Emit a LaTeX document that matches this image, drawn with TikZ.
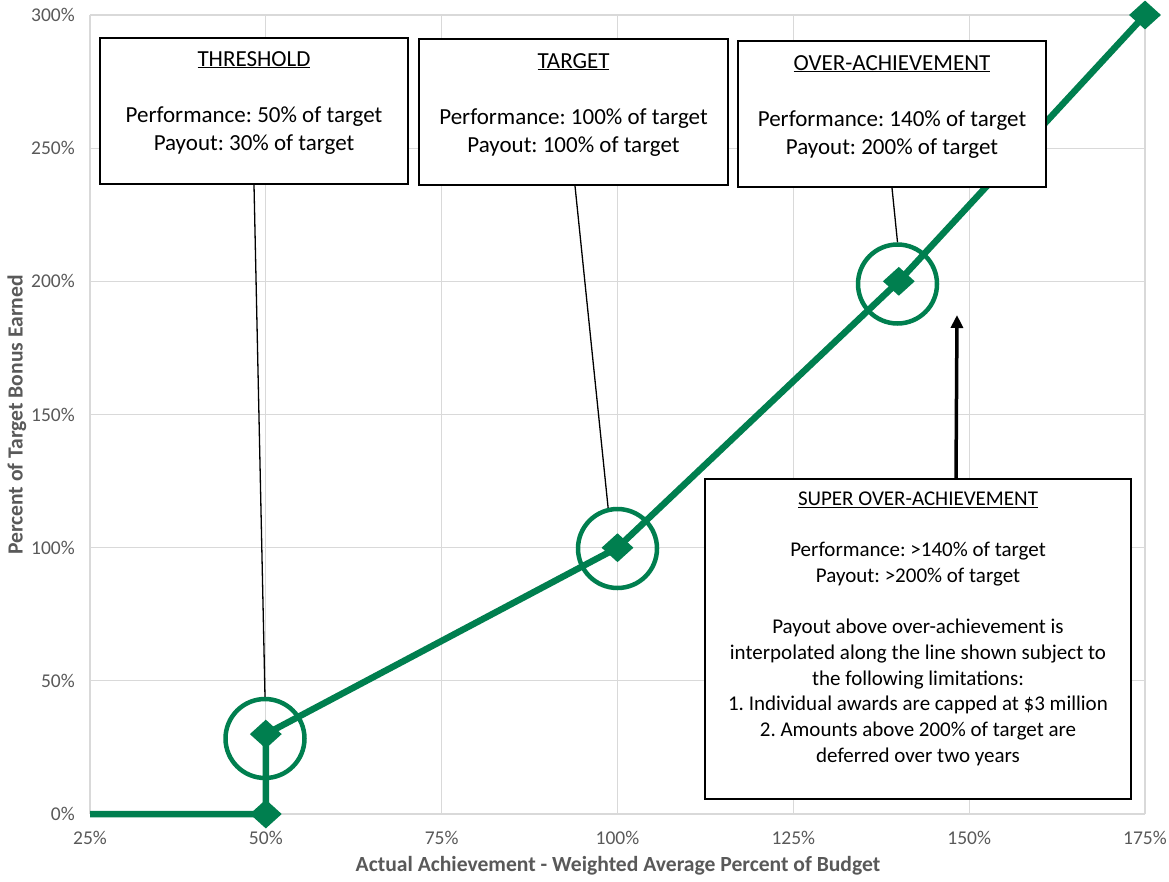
\documentclass[tikz,border=0pt]{standalone}
\usepackage{fontspec}
\setmainfont{Carlito}
\frenchspacing
\usetikzlibrary{shapes.geometric,arrows.meta,calc}
\definecolor{grn}{RGB}{0,127,79}
\definecolor{gridc}{RGB}{217,217,217}
\definecolor{axc}{RGB}{89,89,89}
\begin{document}
\begin{tikzpicture}[x=1pt,y=-1pt,
  gridline/.style={draw=gridc,line width=1.3pt},
  ticky/.style={font=\fontsize{19.5}{22}\selectfont,text=axc,anchor=east,inner sep=0},
  tickx/.style={font=\fontsize{19.5}{22}\selectfont,text=axc,anchor=center,inner sep=0},
  axtitle/.style={font=\fontsize{21.6}{24}\selectfont\bfseries,text=axc,inner sep=0},
  infobox/.style={rectangle,draw=black,line width=1.8pt,fill=white,inner sep=0},
  boxtext/.style={align=center,anchor=north,inner sep=0,font=\fontsize{23}{28}\selectfont},
  stext/.style={align=center,anchor=north,inner sep=0,font=\fontsize{21}{25.7}\selectfont},
  ring/.style={circle,draw=grn,line width=4.5pt,minimum size=79pt,inner sep=0},
  dmd/.style={diamond,fill=grn,minimum width=32pt,minimum height=29pt,inner sep=0},
  curve/.style={draw=grn,line width=6.5pt,line join=round},
  leader/.style={draw=black,line width=1.3pt},
]
\useasboundingbox (0,0) rectangle (1169,881);
\fill[white] (0,0) rectangle (1169,881);

% grid
\foreach \i in {0,...,6} {
  \draw[gridline] ({90+\i*175.833},15) -- ({90+\i*175.833},814);
  \draw[gridline] (90,{15+\i*133.167}) -- (1145,{15+\i*133.167});
}
% tick labels
\foreach \v [count=\j from 0] in {300,250,200,150,100,50,0} {
  \node[ticky] (yl\j) at (75,{15+\j*133.167}) {\v\%};
}
\foreach \v [count=\i from 0] in {25,50,75,100,125,150,175} {
  \node[tickx] (xl\i) at ({90+\i*175.833},838) {\v\%};
}
\node[axtitle] (xt) at (618,866) {Actual Achievement - Weighted Average Percent of Budget};
\node[axtitle,rotate=90] (yt) at (17,415) {Percent of Target Bonus Earned};

% data
\coordinate (p0) at (90,814);
\coordinate (p1) at (265.8,814);
\coordinate (p2) at (265.8,734.1);
\coordinate (p3) at (617.5,547.7);
\coordinate (p4) at (898.8,281.3);
\coordinate (p5) at (1145,15);
\draw[curve] (p0) -- (p1) -- (p2) -- (p3) -- (p4) -- (p5);
\node[dmd] (d1) at (p1) {};
\node[dmd] (d2) at (p2) {};
\node[dmd] (d3) at (p3) {};
\node[dmd] (d4) at (p4) {};
\node[dmd] (d5) at (p5) {};

\node[ring] (c1) at (265,738.5) {};
\node[ring] (c2) at (617.5,548.5) {};
\node[ring] (c3) at (897.5,284) {};

% boxes
\node[infobox,minimum width=308pt,minimum height=146pt] (thbox) at (254,111) {};
\node[infobox,minimum width=309pt,minimum height=146pt] (tgbox) at (573.5,112) {};
\node[infobox,minimum width=308pt,minimum height=146pt] (ovbox) at (892,114) {};
\node[infobox,minimum width=426pt,minimum height=320pt] (sobox) at (918,639) {};

\node[boxtext] (tht) at (254,51) {\underline{THRESHOLD}\\[28pt]Performance: 50\% of target\\Payout: 30\% of target};
\node[boxtext] (tgt) at (573.5,53) {\underline{TARGET}\\[28pt]Performance: 100\% of target\\Payout: 100\% of target};
\node[boxtext] (ovt) at (892,55) {\underline{OVER-ACHIEVEMENT}\\[28pt]Performance: 140\% of target\\Payout: 200\% of target};
\node[stext] (sot) at (918,491.5) {\underline{SUPER OVER-ACHIEVEMENT}\\[25.7pt]Performance: >140\% of target\\Payout: >200\% of target\\[25.7pt]Payout above over-achievement is\\interpolated along the line shown subject to\\the following limitations:\\1. Individual awards are capped at \$3 million\\2. Amounts above 200\% of target are\\deferred over two years};

% leaders
\draw[leader] (thbox.south) -- (c1.north);
\draw[leader] ($(tgbox.south)+(1.5,0)$) -- (c2.103);
\draw[leader] (ovbox.south) -- (c3.north);
\coordinate (arrtip) at (957,315);
\draw[-{Triangle[length=13pt,width=12pt]},line width=3.5pt] ($(sobox.north)+(38,0)$) -- (arrtip);
\end{tikzpicture}
\end{document}
